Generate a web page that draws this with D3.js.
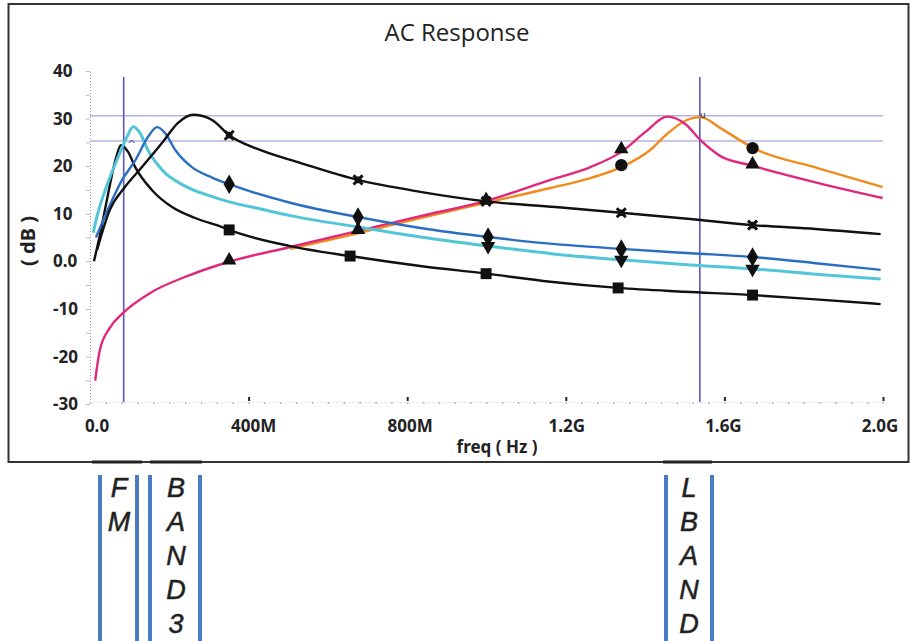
<!DOCTYPE html>
<html>
<head>
<meta charset="utf-8">
<script src="https://cdn.jsdelivr.net/npm/d3@7"></script>
<style>
  body { margin: 0; background: #fff; }
  svg { display: block; }
  .ylab, .xlab, .axtitle { font-family: "Noto Sans", sans-serif; font-weight: bold; fill: #222; }
  .band { font-family: "Liberation Sans", Arial, sans-serif; font-style: italic; font-size: 27px; fill: #1c1c1c; stroke: #333; stroke-width: 0.6px; }
</style>
</head>
<body>
<script>
// frequency in MHz, response in dB
var xTicks = [0, 400, 800, 1200, 1600, 2000];
var xTickLabels = ["0.0", "400M", "800M", "1.2G", "1.6G", "2.0G"];
var yTicks = [40, 30, 20, 10, 0, -10, -20, -30];
var yTickLabels = ["40", "30", "20", "10", "0.0", "-10", "-20", "-30"];

var fmCurve = [[10,0],[25,5.5],[45,13.9],[63,20.9],[78,24.4],[96,23.0],[114,19.8],[156,15.0],[207,11.4],[265,9.1],[333,7.2],[351,6.6],[505,3.2],[656,1.1],[833,-1.0],[999,-2.6],[1161,-4.3],[1332,-5.6],[1500,-6.4],[1671,-7.1],[1830,-8.0],[1994,-9.0]];
var cyanCurve = [[8,6.0],[20,10.2],[38,14.9],[71,21.9],[93,26.1],[109,28.3],[126,27.0],[146,23.4],[182,19.2],[240,15.8],[308,13.6],[351,12.5],[430,11.0],[505,9.6],[676,7.2],[833,5.1],[1004,3.2],[1174,1.5],[1340,0.3],[1514,-0.8],[1671,-1.6],[1830,-2.7],[1994,-3.7]];
var blueCurve = [[15,5.0],[56,12.9],[81,17.1],[114,21.2],[146,26.1],[169,28.2],[189,27.0],[215,23.4],[257,19.8],[308,17.6],[351,16.2],[505,12.3],[676,9.3],[833,7.0],[1004,5.1],[1174,3.6],[1340,2.6],[1514,1.7],[1671,0.9],[1830,-0.4],[1994,-1.8]];
var band3Curve = [[18,2.4],[50,10.8],[88,15.6],[131,19.8],[182,24.9],[222,29.1],[260,30.8],[308,29.7],[351,26.5],[429,23.4],[530,20.7],[676,17.1],[833,14.6],[999,12.6],[1174,11.4],[1340,10.2],[1514,8.9],[1671,7.6],[1830,6.8],[1994,5.7]];
var pinkCurve = [[13,-25.1],[25,-18.6],[50,-14.0],[83,-10.9],[151,-6.7],[252,-2.9],[351,-0.1],[505,3.0],[676,6.4],[833,9.5],[999,12.7],[1161,17.1],[1262,19.8],[1340,23.0],[1401,27.2],[1456,30.4],[1502,28.8],[1539,25.5],[1590,22.1],[1666,20.2],[1835,16.5],[1999,13.3]];
var orangeCurve = [[505,2.6],[676,5.9],[833,9.1],[999,12.3],[1161,15.4],[1262,17.5],[1340,19.8],[1413,23.4],[1456,26.8],[1505,29.7],[1540,30.3],[1590,28.0],[1673,23.8],[1835,19.6],[1999,15.6]];

// marker positions on each curve
var squareMarks = [[351,6.6],[656,1.1],[999,-2.6],[1332,-5.6],[1671,-7.1]];
var crossMarks = [[351,26.5],[676,17.1],[999,12.6],[1340,10.2],[1671,7.6]];
var diamondMarks = [[351,16.2],[676,9.3],[1004,5.1],[1340,2.6],[1671,0.9]];
var downMarks = [[1004,3.2],[1340,0.3],[1671,-1.6]];
var upMarks = [[351,0.2],[676,6.6],[999,12.9],[1340,23.6],[1671,20.4]];
var circleMarks = [[1340,20.2],[1671,23.8]];

var cursorFreqs = [85, 1538];
var cursorLevels = [30.6, 25.3];

var bandNames = ["FM", "BAND3", "LBAND"];
var bandCenters = [119, 176, 689];
var bandBars = [[100, 137], [150, 200], [666, 712]];
var bandCaps = [[92, 142], [150, 202], [663, 712]];

var W = 911, H = 641;
var svg = d3.select("body").append("svg").attr("width", W).attr("height", H);

var x = d3.scaleLinear().domain([0, 2000]).range([90, 883]);
var y = d3.scaleLinear().domain([-30, 40]).range([404, 71]);

// outer frame
svg.append("rect")
    .attr("x", 8.5).attr("y", 4).attr("width", 900).attr("height", 458)
    .attr("fill", "none").attr("stroke", "#333").attr("stroke-width", 2);

svg.append("text")
    .attr("x", 457).attr("y", 41)
    .attr("text-anchor", "middle")
    .style("font-family", "'Open Sans', sans-serif")
    .style("font-size", "24px").style("fill", "#222")
    .text("AC Response");

// dotted axes with small ticks
var yAxis = d3.axisLeft(y).tickValues(d3.range(-30, 41, 5)).tickSize(4).tickFormat("");
var gy = svg.append("g").attr("transform", "translate(90,0)").call(yAxis);
gy.select(".domain").attr("stroke", "#999").attr("stroke-dasharray", "1,2");
gy.selectAll(".tick line").attr("stroke", "#bbb");

var xAxis = d3.axisBottom(x).tickValues(d3.range(0, 2001, 40)).tickSize(2).tickFormat("");
var gx = svg.append("g").attr("transform", "translate(0,402)").call(xAxis);
gx.select(".domain").attr("stroke", "#ccc").attr("stroke-dasharray", "1,3");
gx.selectAll(".tick line").attr("stroke", "#bbb").attr("stroke-width", 1.5);

var gxMajor = svg.append("g").attr("transform", "translate(0,402)")
    .call(d3.axisBottom(x).tickValues(xTicks.slice(1)).tickSize(4).tickFormat(""));
gxMajor.select(".domain").remove();
gxMajor.selectAll(".tick line").attr("stroke", "#222").attr("stroke-width", 2).attr("transform", "translate(0,-5)");

svg.selectAll(".ylab").data(yTicks).enter().append("text")
    .attr("class", "ylab")
    .attr("x", 53).attr("y", function(d) { return y(d); })
    .attr("dy", "0.36em")
    .style("font-size", "17px")
    .text(function(d, i) { return yTickLabels[i]; });

svg.selectAll(".xlab").data(xTicks).enter().append("text")
    .attr("class", "xlab")
    .attr("x", function(d) { return x(d) + 7 - d * 0.005; }).attr("y", 432)
    .attr("text-anchor", "middle")
    .style("font-size", "17px")
    .text(function(d, i) { return xTickLabels[i]; });

svg.append("text").attr("class", "axtitle")
    .attr("x", 497).attr("y", 453).attr("text-anchor", "middle")
    .style("font-size", "17px").text("freq ( Hz )");

svg.append("text").attr("class", "axtitle")
    .attr("transform", "translate(35,241) rotate(-90)")
    .attr("text-anchor", "middle")
    .style("font-size", "20px").text("( dB )");

// cursor lines
svg.selectAll(".hcur").data(cursorLevels).enter().append("line")
    .attr("x1", 90).attr("x2", 883)
    .attr("y1", function(d) { return y(d); }).attr("y2", function(d) { return y(d); })
    .attr("stroke", "#b4b4de").attr("stroke-width", 1.5);

svg.selectAll(".vcur").data(cursorFreqs).enter().append("line")
    .attr("x1", function(d) { return x(d); }).attr("x2", function(d) { return x(d); })
    .attr("y1", 77).attr("y2", 402)
    .attr("stroke", "#5a58b8").attr("stroke-width", 1.6);

// curves
var line = d3.line()
    .x(function(d) { return x(d[0]); })
    .y(function(d) { return y(d[1]); })
    .curve(d3.curveMonotoneX);

var curves = [
  { data: orangeCurve, color: "#f08c1c", w: 2.4 },
  { data: pinkCurve, color: "#e0287c", w: 2.4 },
  { data: fmCurve, color: "#111", w: 2.4 },
  { data: cyanCurve, color: "#52c6d8", w: 3 },
  { data: blueCurve, color: "#2a6ec2", w: 2.4 },
  { data: band3Curve, color: "#111", w: 2.4 }
];

svg.selectAll(".curve").data(curves).enter().append("path")
    .attr("d", function(d) { return line(d.data); })
    .attr("fill", "none")
    .attr("stroke", function(d) { return d.color; })
    .attr("stroke-width", function(d) { return d.w; });

svg.append("text").attr("x", 127).attr("y", 148)
    .style("font-family", "'DejaVu Sans', sans-serif").style("font-size", "11px")
    .style("fill", "#4a56c8").text("^");
svg.append("text").attr("x", 700).attr("y", 118)
    .style("font-family", "'DejaVu Sans', sans-serif").style("font-size", "9px")
    .style("fill", "#333").text("u");

// markers
function marks(data, type, size, rot, stroke) {
  var sym = d3.symbol().type(type).size(size);
  svg.append("g").selectAll("path").data(data).enter().append("path")
      .attr("d", sym)
      .attr("transform", function(d) { return "translate(" + x(d[0]) + "," + y(d[1]) + ") rotate(" + rot + ")"; })
      .attr("fill", stroke ? "none" : "#111")
      .attr("stroke", stroke ? "#111" : "none")
      .attr("stroke-width", stroke ? 3 : 0);
}
marks(squareMarks, d3.symbolSquare, 120, 0, false);
marks(crossMarks, d3.symbolX, 55, 0, true);
marks(crossMarks, d3.symbolCross, 25, 0, false);
marks(diamondMarks, d3.symbolDiamond, 110, 0, false);
marks(downMarks, d3.symbolTriangle, 90, 180, false);
marks(upMarks, d3.symbolTriangle, 90, 0, false);
marks(circleMarks, d3.symbolCircle, 120, 0, false);

// band labels below the frame
bandCaps.forEach(function(c) {
  svg.append("line").attr("x1", c[0]).attr("x2", c[1]).attr("y1", 462).attr("y2", 462)
      .attr("stroke", "#222").attr("stroke-width", 3);
});
bandBars.forEach(function(b) {
  svg.selectAll(null).data(b).enter().append("line")
      .attr("x1", function(d) { return d; }).attr("x2", function(d) { return d; })
      .attr("y1", 475).attr("y2", H)
      .attr("stroke", "#4a7cc0").attr("stroke-width", 4);
});
bandNames.forEach(function(name, i) {
  svg.append("g").selectAll("text").data(name.split("")).enter().append("text")
      .attr("class", "band")
      .attr("x", bandCenters[i]).attr("y", function(d, j) { return 497 + j * 34; })
      .attr("text-anchor", "middle")
      .text(function(d) { return d; });
});
</script>
</body>
</html>
